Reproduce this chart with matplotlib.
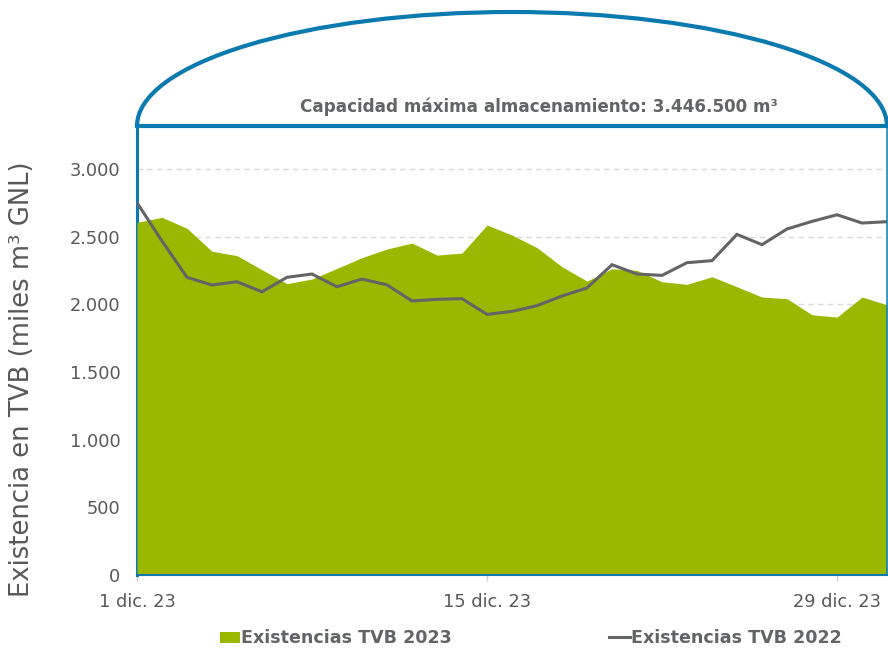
import pandas as pd
import matplotlib
matplotlib.use('Agg')
import matplotlib.pyplot as plt
from matplotlib.patches import Arc, Rectangle
from matplotlib.lines import Line2D
from matplotlib.ticker import FuncFormatter

# DATA: daily stock in the TVB tanks, December (miles m3 GNL)
days = pd.date_range('2023-12-01', '2023-12-31', freq='D')
stock_2023 = [2606, 2643, 2562, 2392, 2360, 2256, 2153, 2187, 2266, 2345, 2409,
              2453, 2364, 2379, 2586, 2512, 2419, 2278, 2172, 2263, 2251, 2167,
              2148, 2204, 2130, 2054, 2042, 1923, 1906, 2054, 1997]
stock_2022 = [2751, 2468, 2200, 2143, 2167, 2093, 2200, 2224, 2130, 2187, 2144,
              2025, 2037, 2042, 1926, 1948, 1990, 2062, 2121, 2293, 2224, 2214,
              2308, 2323, 2517, 2441, 2557, 2613, 2662, 2601, 2611]
tick_days = ['2023-12-01', '2023-12-15', '2023-12-29']
tick_labels = ['1 dic. 23', '15 dic. 23', '29 dic. 23']
y_ticks = [0, 500, 1000, 1500, 2000, 2500, 3000]
capacity_text = 'Capacidad máxima almacenamiento: 3.446.500 m³'
legend_labels = ['Existencias TVB 2023', 'Existencias TVB 2022']

GREEN = '#9BB800'
GREY_LINE = '#636466'
BLUE = '#0A7AAF'
TEXT = '#595959'

W, H = 888, 648


def px(x, y):
    # pixel position (from top-left) -> figure fraction
    return x / W, 1 - y / H


def plot_tank():
    fig = plt.figure(figsize=(W / 100, H / 100), dpi=100)
    ax = fig.add_axes([137 / W, 73 / H, 750 / W, 449 / H])

    ax.fill_between(days, 0, stock_2023, color=GREEN, lw=0, zorder=2)
    ax.plot(days, stock_2022, color=GREY_LINE, lw=2.2, zorder=3,
            solid_joinstyle='miter')

    ax.set_xlim(days[0], days[-1])
    ax.set_ylim(0, 3318)

    ax.set_yticks(y_ticks)
    ax.yaxis.set_major_formatter(FuncFormatter(lambda v, p: f'{int(v):,}'.replace(',', '.')))
    ax.set_xticks(pd.to_datetime(tick_days))
    ax.set_xticklabels(tick_labels)

    ax.tick_params(axis='y', length=0, pad=12, labelsize=12.8, labelcolor=TEXT)
    ax.tick_params(axis='x', length=4, width=1, color='#d0d0d0', pad=9,
                   labelsize=12.8, labelcolor=TEXT)

    ax.grid(axis='y', color='#d9d9d9', ls=(0, (4, 3)), lw=1, zorder=1)
    ax.set_axisbelow(True)

    # tank walls
    ax.spines['top'].set_color(BLUE)
    ax.spines['top'].set_linewidth(3)
    ax.spines['left'].set_color(BLUE)
    ax.spines['left'].set_linewidth(2.2)
    ax.spines['right'].set_color(BLUE)
    ax.spines['right'].set_linewidth(1.1)
    ax.spines['bottom'].set_color(BLUE)
    ax.spines['bottom'].set_linewidth(1.5)
    for s in ax.spines.values():
        s.set_zorder(4)
    # the fill hides half of the left wall, like in the original
    ax.spines['left'].set_zorder(1.5)

    # dome on top of the tank
    dome = Arc((0.5, 1.0), 1.0, 2 * 114 / 449, theta1=0, theta2=180,
               transform=ax.transAxes, clip_on=False, color=BLUE, lw=3)
    ax.add_patch(dome)

    fig.text(*px(539, 107), capacity_text, ha='center', va='center',
             fontsize=12.1, fontweight='bold', color=GREY_LINE)

    fig.text(*px(22, 379), 'Existencia en TVB (miles m³ GNL)', rotation=90,
             ha='center', va='center', fontsize=18.6, color=TEXT)

    # LEGEND (drawn by hand below the axis)
    fig.patches.append(Rectangle(px(220, 643), 20 / W, 11 / H, transform=fig.transFigure,
                                 facecolor=GREEN, edgecolor='none'))
    fig.text(*px(241, 643), legend_labels[0], ha='left', va='baseline',
             fontsize=12.6, fontweight='bold', color=GREY_LINE)
    x0, y0 = px(609, 637)
    x1, _ = px(630, 637)
    fig.lines.append(Line2D([x0, x1], [y0, y0], transform=fig.transFigure,
                            color=GREY_LINE, lw=2.2))
    fig.text(*px(631, 643), legend_labels[1], ha='left', va='baseline',
             fontsize=12.6, fontweight='bold', color=GREY_LINE)

    fig.savefig('out.png', dpi=100)


if __name__ == '__main__':
    plot_tank()
